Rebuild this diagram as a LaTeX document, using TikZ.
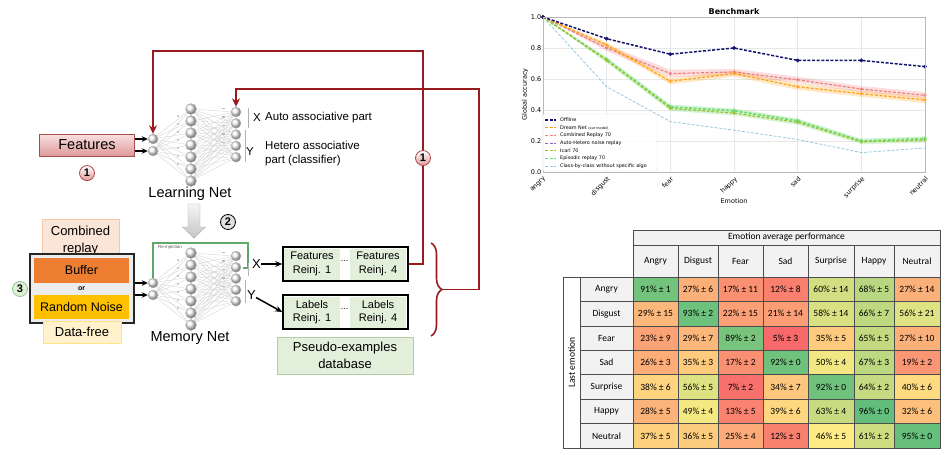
\documentclass[tikz,border=0pt]{standalone}
\usepackage{fontspec}
\setmainfont{Liberation Sans}
\newfontfamily\tabfont{Carlito}
\newfontfamily\plotfont{DejaVu Sans}
\usetikzlibrary{arrows.meta, positioning, decorations.pathreplacing}

\definecolor{fbred}{HTML}{991B1E}
\definecolor{feattop}{HTML}{F8E0E0}
\definecolor{featbot}{HTML}{DE9A9A}
\definecolor{featline}{HTML}{A5504E}
\definecolor{crfill}{HTML}{FBE5D6}
\definecolor{crline}{HTML}{F4C7A8}
\definecolor{buffill}{HTML}{ED7D31}
\definecolor{noisefill}{HTML}{FFC000}
\definecolor{dffill}{HTML}{FFF2CC}
\definecolor{dfline}{HTML}{FFE38A}
\definecolor{reinjfill}{HTML}{E2EFDA}
\definecolor{dbline}{HTML}{B4CDA8}
\definecolor{rjgreen}{HTML}{5FA865}
\definecolor{badgegreen}{HTML}{DDF1D5}
\definecolor{offcol}{HTML}{14146E}
\definecolor{dreamcol}{HTML}{FFA21A}
\definecolor{combcol}{HTML}{EE7F7F}
\definecolor{ahcol}{HTML}{8E63B8}
\definecolor{icarlcol}{HTML}{9DC233}
\definecolor{epicol}{HTML}{72DC72}
\definecolor{cbccol}{HTML}{96C8DC}
\definecolor{hmred}{HTML}{F8696B}
\definecolor{hmyel}{HTML}{FFEB84}
\definecolor{hmgrn}{HTML}{63BE7B}
\definecolor{headgray}{HTML}{F2F2F2}
\definecolor{tabline}{HTML}{4D4D4D}

\begin{document}
\begin{tikzpicture} [x=1pt, y=-1pt,
  neuron/.style = {circle, draw=gray!50, ball color=gray!10, minimum size=11pt, inner sep=0pt},
  outneuron/.style = {neuron, minimum size=10pt},
  wdot/.style = {circle, fill=gray!55, minimum size=2.4pt, inner sep=0pt},
  wdash/.style = {rectangle, fill=gray!55, minimum width=3pt, minimum height=1.4pt, inner sep=0pt},
  synapse/.style = {gray!40, line width=0.3pt},
  feedback/.style = {-{Stealth[length=8.5pt, width=8pt]}, fbred, line width=1.7pt},
  badge/.style = {circle, line width=0.8pt, minimum size=15pt, inner sep=0pt, font=\bfseries\fontsize{11}{12}\selectfont},
  redbadge/.style = {badge, draw=fbred!80, top color=white, bottom color=featbot},
  graybadge/.style = {badge, draw=black, fill=gray!25},
  greenbadge/.style = {badge, draw=rjgreen!70, fill=badgegreen},
  bigtext/.style = {font=\fontsize{14.5}{17}\selectfont},
  sidetext/.style = {font=\fontsize{11.5}{14}\selectfont, anchor=west, inner sep=0pt, align=left},
  srcbox/.style = {minimum width=95pt, inner sep=0pt, align=center, font=\fontsize{12.5}{17}\selectfont},
  reinjcell/.style = {fill=reinjfill, minimum width=56pt, minimum height=31pt, inner sep=0pt, align=center, font=\fontsize{11}{13.5}\selectfont},
  reinjframe/.style = {draw=black, fill=white, line width=1.6pt, minimum width=125pt, minimum height=34pt, inner sep=0pt},
  plotline/.style = {line width=1.2pt, dash pattern=on 3pt off 1.6pt},
  tabcell/.style = {draw=tabline, line width=0.5pt, minimum height=24.43pt, inner sep=0pt},
  tabhead/.style = {tabcell, fill=headgray}
]
\useasboundingbox (0,0) rectangle (945,455);

% learning net and memory net
\foreach \net/\dy in {ln/0, mn/144} {
  \foreach \i in {1,2}
    \node (\net-i\i) [outneuron] at (153, {127+12*\i+\dy}) {};
  \foreach \i in {1,...,7}
    \node (\net-h\i) [neuron] at (191, {97+12*\i+\dy}) {};
  \foreach \i in {1,...,5}
    \node (\net-o\i) [outneuron] at (236, {100.7+11.3*\i+\dy}) {};
  \foreach \a in {1,2}
    \foreach \b in {1,...,7}
      \draw [synapse] (\net-i\a) -- (\net-h\b);
  \foreach \a in {1,...,7}
    \foreach \b in {1,...,5}
      \draw [synapse] (\net-h\a) -- (\net-o\b);
  \foreach \i in {1,...,7}
    \node (\net-w\i) [wdot] at (178, {108+8*\i+\dy}) {};
  \foreach \i in {1,...,5}
    \node (\net-v\i) [wdash] at (223, {100+8.5*\i+\dy}) {};
}

\node (lnlab) [bigtext] at (190,194) {Learning Net};
\node (mnlab) [bigtext] at (190,338) {Memory Net};

% X / Y parts
\draw [gray!60, line width=0.6pt] (248,108) -- (248,128);
\draw [gray!60, line width=0.6pt] (245,130) -- (245,162);
\node (lnx) [sidetext] at (253,118) {X};
\node (lny) [sidetext] at (246,152) {Y};
\node (autotxt) [sidetext] at (265,118) {Auto associative part};
\node (heterotxt) [sidetext] at (265,153.5) {Hetero associative\\part (classifier)};

% features
\node (feat) [draw=featline, top color=feattop, bottom color=featbot, minimum width=95pt, minimum height=22pt, inner sep=0pt, font=\fontsize{14.5}{17}\selectfont] at (87,145) {Features};
\node (b1a) [redbadge, below = 9pt of feat] {1};
\path [-{Stealth[length=6pt, width=5.5pt]}, line width=1.2pt]
  (feat.east |- ln-i1) edge (ln-i1)
  (feat.east |- ln-i2) edge (ln-i2);

% step 2
\draw [gray!70, top color=gray!8, bottom color=gray!45] (188,204) -- (200,204) -- (200,227) -- (205.5,227) -- (194,238) -- (182.5,227) -- (188,227) -- cycle;
\node (b2) [graybadge] at (228,222) {2};

% replay sources
\node (cr) [draw=crline, fill=crfill, minimum width=77pt, minimum height=44pt, inner sep=0pt, align=center, font=\fontsize{13}{17}\selectfont] at (80.5,241) {Combined\\replay};
\node (src) [draw=gray!30!black, fill=gray!15, line width=1.2pt, minimum width=104pt, minimum height=69pt, inner sep=0pt] at (82,288.5) {};
\node (buf) [srcbox, fill=buffill, minimum height=25pt] at (81.5,270.5) {Buffer};
\node (ortxt) [font=\bfseries\fontsize{7}{8}\selectfont] at (81.5,289) {or};
\node (noise) [srcbox, fill=noisefill, minimum height=24pt] at (81.5,307) {Random Noise};
\node (df) [srcbox, draw=dfline, fill=dffill, minimum width=78pt, minimum height=22pt, font=\fontsize{13}{17}\selectfont] at (82,332) {Data-free};
\node (b3) [greenbadge] at (20,289) {3};
\path [-{Stealth[length=6pt, width=5.5pt]}, line width=1.2pt]
  (src.east |- mn-i1) edge (mn-i1)
  (src.east |- mn-i2) edge (mn-i2);

% re-injection
\coordinate (rj-in) at (243,268);
\coordinate (rj-top) at (248,243);
\draw [rjgreen, line width=1.5pt] (rj-in) -| (rj-top) -| (mn-i1.north);
\node (rjlab) [anchor=west, inner sep=0pt, font=\fontsize{4.5}{5}\selectfont, text=gray!70!black] at (158,247) {Re-injection};
\draw [gray!60, line width=0.6pt] (248,263) -- (248,276);
\draw [gray!60, line width=0.6pt] (245,280) -- (245,303);
\node (mnx) [sidetext, font=\fontsize{13}{15}\selectfont] at (252,264) {X};
\node (mny) [sidetext, font=\fontsize{13}{15}\selectfont] at (247,295) {Y};

% pseudo-examples
\node (fr) [reinjframe] at (345.5,264) {};
\node (fr1) [reinjcell] at (312,264) {Features\\Reinj. 1};
\node (fr4) [reinjcell] at (378,264) {Features\\Reinj. 4};
\node (frd) [font=\fontsize{9}{10}\selectfont] at (344.5,261) {...};
\node (lb) [reinjframe] at (345.5,312) {};
\node (lb1) [reinjcell] at (312,312) {Labels\\Reinj. 1};
\node (lb4) [reinjcell] at (378,312) {Labels\\Reinj. 4};
\node (lbd) [font=\fontsize{9}{10}\selectfont] at (344.5,309) {...};
\node (pdb) [draw=dbline, fill=reinjfill, minimum width=136pt, minimum height=37pt, inner sep=0pt, align=center, font=\fontsize{13}{16.5}\selectfont] at (345,355.5) {Pseudo-examples\\database};
\path [-{Stealth[length=7pt, width=6pt]}, line width=1.5pt]
  (mnx) edge (fr)
  (mny) edge (lb.west);

% feedback
\draw [fbred, line width=1.6pt, decorate, decoration={brace, amplitude=11pt}] (431,243) -- (431,336);
\coordinate (brtip) at (442,289.5);
\coordinate (fb1) at (423,51);
\coordinate (fb2) at (479,89);
\draw [feedback] (fr.east) -| (fb1) -| (ln-i1.north);
\draw [feedback] (brtip) -| (fb2) -| (ln-o1.north);
\node (b1b) [redbadge] at (423,158) {1};

% benchmark plot
\begin{scope}[shift={(543,172)}, x=63.67pt, y=155pt, font=\plotfont\fontsize{6.5}{7.5}\selectfont]
  \foreach \i in {0,...,6}
    \draw [gray!18, line width=0.5pt] (\i,0) -- (\i,1);
  \foreach \v in {0.2,0.4,0.6,0.8}
    \draw [gray!18, line width=0.5pt] (0,\v) -- (6,\v);
  \fill [combcol, opacity=0.25] (0,1) -- (1,0.82) -- (2,0.66) -- (3,0.665) -- (4,0.615) -- (5,0.555) -- (6,0.515)
    -- (6,0.475) -- (5,0.515) -- (4,0.575) -- (3,0.625) -- (2,0.61) -- (1,0.78) -- cycle;
  \fill [dreamcol, opacity=0.25] (0,1) -- (1,0.835) -- (2,0.605) -- (3,0.655) -- (4,0.57) -- (5,0.525) -- (6,0.485)
    -- (6,0.445) -- (5,0.485) -- (4,0.53) -- (3,0.615) -- (2,0.565) -- (1,0.805) -- cycle;
  \fill [epicol, opacity=0.3] (0,1) -- (1,0.74) -- (2,0.435) -- (3,0.41) -- (4,0.345) -- (5,0.215) -- (6,0.23)
    -- (6,0.19) -- (5,0.18) -- (4,0.305) -- (3,0.365) -- (2,0.395) -- (1,0.705) -- cycle;
  \draw [plotline, cbccol, line width=0.8pt] plot coordinates {(0,1) (1,0.55) (2,0.325) (3,0.27) (4,0.21) (5,0.125) (6,0.155)};
  \draw [plotline, epicol, line width=1.8pt] plot[mark=*, mark size=1pt, mark options={solid}] coordinates {(0,1) (1,0.725) (2,0.42) (3,0.395) (4,0.33) (5,0.2) (6,0.215)};
  \draw [plotline, icarlcol] plot[mark=*, mark size=0.8pt, mark options={solid}] coordinates {(0,1) (1,0.72) (2,0.41) (3,0.38) (4,0.32) (5,0.195) (6,0.205)};
  \draw [plotline, combcol] plot[mark=*, mark size=0.8pt, mark options={solid}] coordinates {(0,1) (1,0.8) (2,0.635) (3,0.645) (4,0.595) (5,0.535) (6,0.495)};
  \draw [plotline, dreamcol] plot[mark=*, mark size=0.8pt, mark options={solid}] coordinates {(0,1) (1,0.82) (2,0.585) (3,0.635) (4,0.55) (5,0.505) (6,0.465)};
  \draw [plotline, offcol, line width=1.5pt] plot[mark=*, mark size=1pt, mark options={solid}] coordinates {(0,1) (1,0.86) (2,0.76) (3,0.8) (4,0.72) (5,0.72) (6,0.68)};
  \draw [gray!55, line width=0.5pt] (0,0) rectangle (6,1);
  \foreach \v [count=\i] in {0.0,0.2,0.4,0.6,0.8,1.0}
    \node (yt-\i) [anchor=east, inner sep=1.5pt] at (0,\v) {\v};
  \foreach \e [count=\i from 0] in {angry,disgust,fear,happy,sad,surprise,neutral}
    \node (xt-\i) [anchor=north east, rotate=45, inner sep=1pt] at (\i,-0.015) {\e};
  \node (ttl) [font=\plotfont\bfseries\fontsize{8}{9}\selectfont] at (3,1.035) {Benchmark};
  \node (ylab) [rotate=90] at (-0.28,0.5) {Global accuracy};
  \node (xlab) at (3,-0.19) {Emotion};
\end{scope}

% legend
\node (leg) [draw=gray!25, fill=white, fill opacity=0.85, rounded corners=1.5pt, minimum width=115pt, minimum height=57pt, inner sep=0pt] at (599.5,142.5) {};
\foreach \c/\t [count=\i] in {offcol/Offline, dreamcol/{Dream Net {\fontsize{3.4}{4}\selectfont (our model)}}, combcol/Combined Replay 70, ahcol/Auto-Hetero noise replay, icarlcol/Icarl 70, epicol/Episodic replay 70, cbccol/Class-by-class without specific algo} {
  \draw [plotline, \c, line width=1.1pt] (545,{112.3+7.7*\i}) -- (556,{112.3+7.7*\i});
  \node (leg-\i) [anchor=west, inner sep=0pt, font=\plotfont\fontsize{4.9}{5}\selectfont] at (560,{112.3+7.7*\i}) {\t};
}

% performance table
\begin{scope}[font=\tabfont\fontsize{9.5}{11}\selectfont]
  \node (th) [tabhead, minimum width=307pt, minimum height=15pt] at (786.5,237.5) {Emotion average performance};
  \foreach \e/\cx/\w [count=\c] in {Angry/655.5/45, Disgust/698/40, Fear/740.5/45, Sad/785.5/45, Surprise/831/46, Happy/874/40, Neutral/917/46}
    \node (ch-\c) [tabhead, minimum width=\w pt, minimum height=32pt] at (\cx,261) {\e};
  \foreach \e [count=\r] in {Angry,Disgust,Fear,Sad,Surprise,Happy,Neutral}
    \node (rh-\r) [tabhead, minimum width=53pt] at (606.5,{277+24.43*(\r-0.5)}) {\e};
  \node (le) [draw=tabline, line width=0.5pt, rotate=90, minimum width=171pt, minimum height=17pt, inner sep=0pt] at (571.5,362.5) {Last emotion};
  \foreach \rowvals [count=\r] in {
      {91/1,27/6,17/11,12/8,60/14,68/5,27/14},
      {29/15,93/2,22/15,21/14,58/14,66/7,56/21},
      {23/9,29/7,89/2,5/3,35/5,65/5,27/10},
      {26/3,35/3,17/2,92/0,50/4,67/3,19/2},
      {38/6,56/5,7/2,34/7,92/0,64/2,40/6},
      {28/5,49/4,13/5,39/6,63/4,96/0,32/6},
      {37/5,36/5,25/4,12/3,46/5,61/2,95/0}} {
    \foreach \v/\e [count=\c] in \rowvals {
      \pgfmathsetmacro\cx{{655.5,698,740.5,785.5,831,874,917}[\c-1]}
      \pgfmathsetmacro\cw{{45,40,45,45,46,40,46}[\c-1]}
      \pgfmathtruncatemacro\lo{\v<45}
      \ifnum\lo=1
        \pgfmathtruncatemacro\pc{(\v-5)*100/40}
        \colorlet{cellc}{hmyel!\pc!hmred}
      \else
        \pgfmathtruncatemacro\pc{min(100,(\v-45)*100/51)}
        \colorlet{cellc}{hmgrn!\pc!hmyel}
      \fi
      \node (cell-\r-\c) [tabcell, fill=cellc, minimum width=\cw pt] at (\cx,{277+24.43*(\r-0.5)}) {\v\%~±~\e};
    }
  }
\end{scope}

\end{tikzpicture}
\end{document}
